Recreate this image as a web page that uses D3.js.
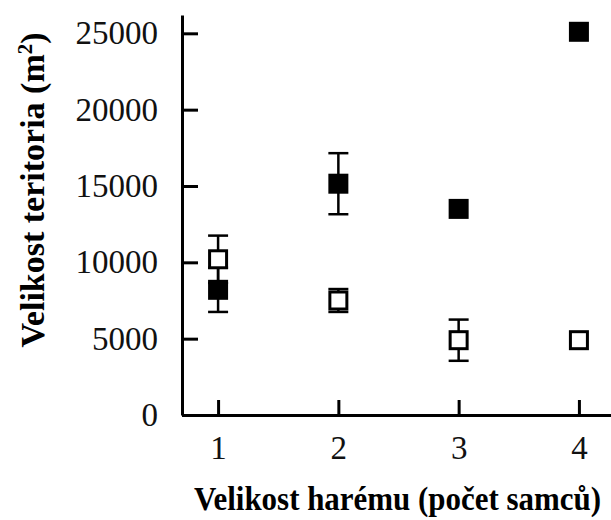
<!DOCTYPE html>
<html>
<head>
<meta charset="utf-8">
<script src="https://cdn.jsdelivr.net/npm/d3@7"></script>
<style>
  html,body{margin:0;padding:0;background:#fff;}
  svg{display:block;}
</style>
</head>
<body>
<div id="chart"></div>
<script>
// data
const haremSize = [1, 2, 3, 4];
const filledMean = [8200, 15150, 13500, 25100];
const filledErr  = [1450, 2000, 0, 0];
const openMean   = [10200, 7500, 4900, 4900];
const openErr    = [1550, 750, 1350, 0];
const yTicks = [0, 5000, 10000, 15000, 20000, 25000];

(function(){
  const W = 611, H = 520;
  const svg = d3.select("#chart").append("svg")
      .attr("width", W).attr("height", H);

  const x = d3.scaleLinear().domain([0.7, 4.3]).range([182, 615]);
  const y = d3.scaleLinear().domain([0, 26200]).range([415, 15]);

  const serif = "Liberation Serif";

  // axes, ticks point inward
  const gy = svg.append("g").attr("transform", `translate(${x(0.7)},0)`)
    .call(d3.axisLeft(y).tickValues(yTicks).tickFormat(d3.format("d"))
      .tickSizeInner(-16).tickSizeOuter(0).tickPadding(24));
  const gx = svg.append("g").attr("transform", `translate(0,${y(0)})`)
    .call(d3.axisBottom(x).tickValues(haremSize).tickFormat(d3.format("d"))
      .tickSizeInner(-15).tickSizeOuter(0).tickPadding(21));

  for (const g of [gx, gy]) {
    g.attr("font-family", serif).attr("font-size", 33);
    g.select(".domain").attr("stroke", "#000").attr("stroke-width", 3);
    g.selectAll(".tick line").attr("stroke", "#000").attr("stroke-width", 3);
    g.selectAll(".tick text").attr("fill", "#111");
  }

  // series
  const mk = (mean, err) => haremSize.map((h, i) => ({h, v: mean[i], e: err[i]}));
  const filled = mk(filledMean, filledErr);
  const open = mk(openMean, openErr);
  const cap = 10, half = 10;

  function errorBars(data) {
    const g = svg.append("g").attr("stroke", "#000").attr("stroke-width", 2.5);
    const d = data.filter(p => p.e > 0);
    g.selectAll("line.v").data(d).join("line").attr("class", "v")
      .attr("x1", p => x(p.h)).attr("x2", p => x(p.h))
      .attr("y1", p => y(p.v + p.e)).attr("y2", p => y(p.v - p.e));
    for (const s of [1, -1]) {
      g.selectAll(`line.c${s}`).data(d).join("line").attr("class", `c${s}`)
        .attr("x1", p => x(p.h) - cap).attr("x2", p => x(p.h) + cap)
        .attr("y1", p => y(p.v + s * p.e)).attr("y2", p => y(p.v + s * p.e));
    }
  }
  errorBars(filled);
  errorBars(open);

  svg.append("g").selectAll("rect").data(filled).join("rect")
    .attr("x", p => x(p.h) - half).attr("y", p => y(p.v) - half)
    .attr("width", 2 * half).attr("height", 2 * half)
    .attr("fill", "#000");

  svg.append("g").selectAll("rect").data(open).join("rect")
    .attr("x", p => x(p.h) - half + 1.5).attr("y", p => y(p.v) - half + 1.5)
    .attr("width", 2 * half - 3).attr("height", 2 * half - 3)
    .attr("fill", "#fff").attr("stroke", "#000").attr("stroke-width", 3);

  // axis titles
  svg.append("text")
    .attr("transform", "translate(194,510) scale(0.91,1)")
    .attr("font-family", serif).attr("font-weight", "bold").attr("font-size", 34)
    .text("Velikost harému (počet samců)");

  const yt = svg.append("text")
    .attr("transform", "translate(44,190) rotate(-90)")
    .attr("text-anchor", "middle")
    .attr("font-family", serif).attr("font-weight", "bold").attr("font-size", 34);
  yt.append("tspan").text("Velikost teritoria (m");
  yt.append("tspan").attr("baseline-shift", "super").attr("font-size", 21).text("2");
  yt.append("tspan").text(")");
})();
</script>
</body>
</html>
